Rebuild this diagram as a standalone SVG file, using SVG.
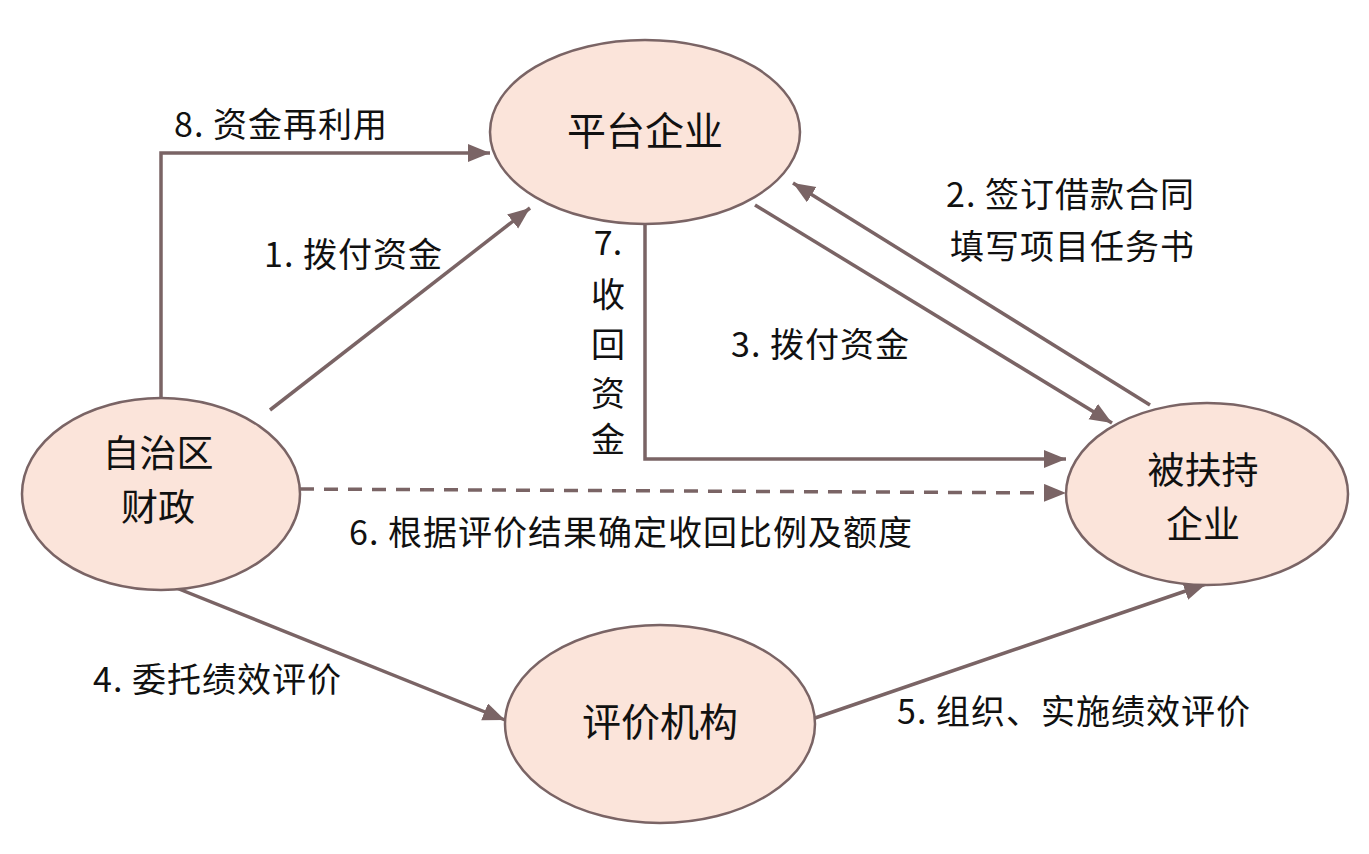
<svg xmlns="http://www.w3.org/2000/svg" width="1369" height="854" viewBox="0 0 1369 854">
<style>
.node{fill:#fbe4da;stroke:#7a6465;stroke-width:2.5}
.nt{font-family:"Noto Sans CJK SC","Noto Sans CJK JP",sans-serif;font-size:39px;fill:#111;text-anchor:middle}
.nt2{font-family:"Noto Sans CJK SC","Noto Sans CJK JP",sans-serif;font-size:37px;fill:#111;text-anchor:middle}
.lb{font-family:"Noto Sans CJK SC","Noto Sans CJK JP",sans-serif;font-size:34px;letter-spacing:1px;fill:#111;text-anchor:end}
.lv{font-family:"Noto Sans CJK SC","Noto Sans CJK JP",sans-serif;font-size:34px;fill:#111;text-anchor:middle}
.c{fill:none;stroke:#7a6465;stroke-width:3.5;marker-end:url(#ah)}
.d{stroke-dasharray:14 10}
</style>
<defs>
<marker id="ah" markerUnits="userSpaceOnUse" markerWidth="26" markerHeight="22" refX="22" refY="9" orient="auto">
<path d="M0,0 L22,9 L0,18 Z" fill="#7a6465"/>
</marker>
</defs>
<rect width="1369" height="854" fill="#ffffff"/>
<g id="connectors">
<path class="c" d="M161,398 V153 H490"/>
<path class="c" d="M270,410 L530,208"/>
<path class="c" d="M1150,405 L793,183"/>
<path class="c" d="M755,205 L1112,423"/>
<path class="c" d="M645,225 V459 H1066"/>
<path class="c d" d="M300,489 L1066,493"/>
<path class="c" d="M159,581 L505,720"/>
<path class="c" d="M815,718 L1206,584"/>
</g>
<g id="labels">
<text class="lb" x="388" y="137">8. 资金再利用</text>
<text class="lb" x="443" y="267">1. 拨付资金</text>
<text class="lb" x="1195" y="207">2. 签订借款合同</text>
<text class="lb" x="1195" y="259">填写项目任务书</text>
<text class="lb" x="910" y="357">3. 拨付资金</text>
<text class="lb" x="913" y="545">6. 根据评价结果确定收回比例及额度</text>
<text class="lb" x="342" y="692">4. 委托绩效评价</text>
<text class="lb" x="1251" y="724">5. 组织、实施绩效评价</text>
<text class="lv" x="608" y="255">7.</text>
<text class="lv" x="608" y="307">收</text>
<text class="lv" x="608" y="357">回</text>
<text class="lv" x="608" y="406">资</text>
<text class="lv" x="608" y="452">金</text>
</g>
<g id="node-platform">
<ellipse class="node" cx="645" cy="132" rx="155" ry="92"/>
<text class="nt" x="645" y="145">平台企业</text>
</g>
<g id="node-finance">
<ellipse class="node" cx="161" cy="494" rx="139" ry="96"/>
<text class="nt2" x="158" y="467">自治区</text>
<text class="nt2" x="158" y="521">财政</text>
</g>
<g id="node-supported">
<ellipse class="node" cx="1207" cy="494" rx="141" ry="91"/>
<text class="nt2" x="1203" y="484">被扶持</text>
<text class="nt2" x="1203" y="538">企业</text>
</g>
<g id="node-evaluator">
<ellipse class="node" cx="660" cy="724" rx="155" ry="99"/>
<text class="nt" x="660" y="736">评价机构</text>
</g>
</svg>
